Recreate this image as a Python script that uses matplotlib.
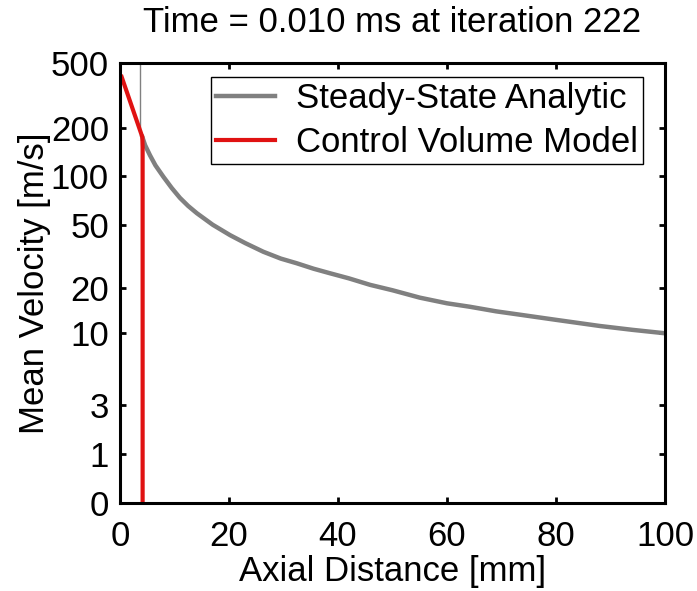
import numpy as np
import matplotlib
matplotlib.use("Agg")
import matplotlib.pyplot as plt

plt.rcParams['font.family'] = ['Liberation Sans', 'DejaVu Sans']

# steady-state analytic solution
analytic_x = [4.1, 4.6, 5.5, 6.5, 7.95, 9.5, 11, 12.5, 14.1, 17, 20.2, 23,
              26.3, 29.5, 32.4, 35.5, 38.5, 42, 45.9, 50, 55, 60, 64.2, 69,
              73.4, 80, 88, 94, 100]
analytic_v = [175, 156, 135, 117, 99.5, 84.6, 73.5, 65.5, 59, 50, 43, 38.3,
              33.8, 30.6, 28.6, 26.4, 24.7, 22.9, 20.8, 19.2, 17.2, 15.8, 15.0,
              14.0, 13.3, 12.3, 11.2, 10.55, 10.0]
# thin vertical part of the analytic curve near the inlet
spike_x = [3.67, 3.67]
spike_v = [501, 185]

# control volume model at this time step
cv_x = [0.3, 4.1, 4.15, 4.15]
cv_v = [411, 175, 150, 0]

yticks = [0, 1, 3, 10, 20, 50, 100, 200, 500]
xticks = [0, 20, 40, 60, 80, 100]


def fwd(v):
    return np.log10(np.asarray(v) + 1.0)


def inv(y):
    return 10.0**np.asarray(y) - 1.0


fig = plt.figure(figsize=(6.97, 5.91), dpi=100)
ax = fig.add_axes([120/697, 88/591, 545/697, 440/591])
ax.set_yscale('function', functions=(fwd, inv))

gray = '#808080'
red = '#e01212'
ax.plot(spike_x, spike_v, color=gray, lw=1.0)
ax.plot(analytic_x, analytic_v, color=gray, lw=3.2, label='Steady-State Analytic')
ax.plot(cv_x, cv_v, color=red, lw=3.0, label='Control Volume Model')

ax.set_xlim(0, 100)
ax.set_ylim(0, 500)
ax.set_xticks(xticks)
ax.set_yticks(yticks)
ax.set_yticklabels([str(t) for t in yticks])
ax.minorticks_off()

ax.tick_params(direction='in', length=4, width=2, labelsize=25, pad=8,
               top=True, right=True)
ax.tick_params(axis='x', pad=12)
for sp in ax.spines.values():
    sp.set_linewidth(2.2)

ax.set_xlabel('Axial Distance [mm]', fontsize=25, labelpad=2)
ax.set_ylabel('Mean Velocity [m/s]', fontsize=25, labelpad=0)
ax.set_title('Time = 0.010 ms at iteration 222', fontsize=25, pad=22)

leg = ax.legend(loc='upper right', bbox_to_anchor=(0.9596, 0.968),
                borderaxespad=0, fontsize=25, handlelength=1.7,
                labelspacing=0.3, fancybox=False, framealpha=1,
                borderpad=0.15, handletextpad=0.6)
leg.get_frame().set_edgecolor('black')
leg.get_frame().set_linewidth(1.0)

fig.savefig('out.png', dpi=100)
